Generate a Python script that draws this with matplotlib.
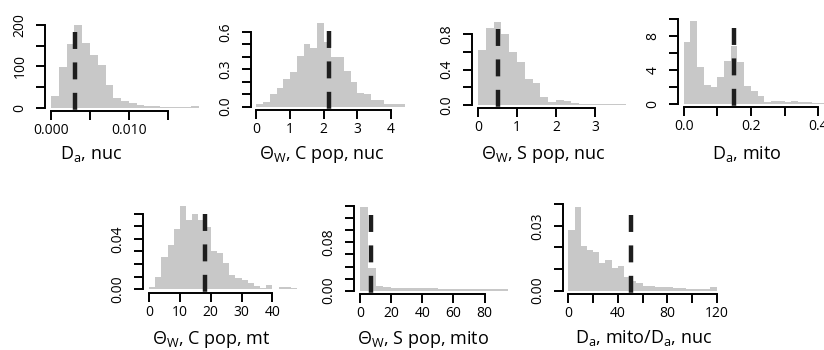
import numpy as np
import matplotlib
matplotlib.use('Agg')
import matplotlib.pyplot as plt

plt.rcParams['font.family'] = ['Open Sans', 'DejaVu Sans']
plt.rcParams['lines.scale_dashes'] = False

# ---------------- data (histogram bin heights) ----------------
# D_a, nuc  (counts), bins of 0.001 from 0
da_nuc_start, da_nuc_step = 0.0, 0.001
da_nuc_vals = [29, 99, 155, 200, 157, 127, 103, 55, 25, 18, 12, 8, 5, 4, 3, 3, 3, 3, 4]
da_nuc_mark = 0.0031

# Theta_W, C pop, nuc (density), bins of 0.2
thc_nuc_start, thc_nuc_step = 0.0, 0.2
thc_nuc_vals = [0.018, 0.04, 0.10, 0.15, 0.22, 0.28, 0.41, 0.50, 0.47, 0.67, 0.52,
                0.40, 0.40, 0.29, 0.20, 0.11, 0.10, 0.05, 0.055, 0.02, 0.02, 0.02]
thc_nuc_mark = 2.16

# Theta_W, S pop, nuc (density), bins of 0.2
ths_nuc_start, ths_nuc_step = 0.0, 0.2
ths_nuc_vals = [0.615, 0.87, 0.94, 0.80, 0.60, 0.49, 0.29, 0.245, 0.094, 0.038, 0.057,
                0.045, 0.02, 0.01, 0.01, 0.01, 0.008, 0.008, 0.008]
ths_nuc_mark = 0.52

# D_a, mito (density), bins of 0.02
da_mito_start, da_mito_step = 0.0, 0.02
da_mito_vals = [7.3, 9.77, 4.37, 2.2, 1.95, 3.2, 5.0, 6.8, 4.9, 2.1, 1.56, 0.94,
                0.27, 0.4, 0.4, 0.27, 0.35, 0.2, 0.2, 0.15, 0.15, 0.1]
da_mito_mark = 0.15

# Theta_W, C pop, mt (density), bins of 2
thc_mt_start, thc_mt_step = 0.0, 2.0
thc_mt_vals = [0.0016, 0.0095, 0.026, 0.035, 0.048, 0.066, 0.055, 0.060, 0.055, 0.049,
               0.030, 0.0285, 0.0205, 0.011, 0.0087, 0.0074, 0.0047, 0.0029, 0.0008,
               0.0034, 0.0003, 0.0016, 0.0016, 0.0008]
thc_mt_mark = 18.0

# Theta_W, S pop, mito (density), bins of 5
ths_mito_start, ths_mito_step = 0.0, 5.0
ths_mito_vals = [0.138, 0.037, 0.0078, 0.0055, 0.004, 0.004, 0.004, 0.005, 0.005, 0.004,
                 0.003, 0.003, 0.003, 0.003, 0.0025, 0.0025, 0.002, 0.002, 0.002]
ths_mito_mark = 7.0

# D_a mito / D_a nuc (density), bins of 5
ratio_start, ratio_step = 0.0, 5.0
ratio_vals = [0.0279, 0.0386, 0.0205, 0.019, 0.0181, 0.0127, 0.0143, 0.0104, 0.0112,
              0.0065, 0.0047, 0.0034, 0.0022, 0.0022, 0.0019, 0.0019, 0.0016, 0.0012,
              0.0012, 0.0010, 0.0010, 0.0010, 0.0010, 0.0019]
ratio_mark = 51.0

# ticks and tick labels
p1_xt = [0, 0.005, 0.010, 0.015]; p1_xl = ['0.000', '', '0.010', '']
p1_yt = [0, 50, 100, 150, 200];   p1_yl = ['0', '', '100', '', '200']
p2_xt = [0, 1, 2, 3, 4];          p2_xl = ['0', '1', '2', '3', '4']
p2_yt = [0, 0.1, 0.2, 0.3, 0.4, 0.5, 0.6]; p2_yl = ['0.0', '', '', '0.3', '', '', '0.6']
p3_xt = [0, 1, 2, 3];             p3_xl = ['0', '1', '2', '3']
p3_yt = [0, 0.2, 0.4, 0.6, 0.8];  p3_yl = ['0.0', '', '0.4', '', '0.8']
p4_xt = [0, 0.1, 0.2, 0.3, 0.4];  p4_xl = ['0.0', '', '0.2', '', '0.4']
p4_yt = [0, 2, 4, 6, 8, 10];      p4_yl = ['0', '', '4', '', '8', '']
p5_xt = [0, 10, 20, 30, 40];      p5_xl = ['0', '10', '20', '30', '40']
p5_yt = [0, 0.01, 0.02, 0.03, 0.04, 0.05, 0.06]; p5_yl = ['0.00', '', '', '', '0.04', '', '']
p6_xt = [0, 20, 40, 60, 80];      p6_xl = ['0', '20', '40', '60', '80']
p6_yt = [0, 0.02, 0.04, 0.06, 0.08, 0.10, 0.12, 0.14]; p6_yl = ['0.00', '', '', '', '0.08', '', '', '']
p7_xt = [0, 20, 40, 60, 80, 100, 120]; p7_xl = ['0', '', '40', '', '80', '', '120']
p7_yt = [0, 0.01, 0.02, 0.03, 0.04]; p7_yl = ['0.00', '', '', '0.03', '']

titles = [r'$\mathregular{D_a}$, nuc',
          r'$\mathregular{Θ_W}$, C pop, nuc',
          r'$\mathregular{Θ_W}$, S pop, nuc',
          r'$\mathregular{D_a}$, mito',
          r'$\mathregular{Θ_W}$, C pop, mt',
          r'$\mathregular{Θ_W}$, S pop, mito',
          r'$\mathregular{D_a}$, mito/$\mathregular{D_a}$, nuc']

series = [
    (da_nuc_start, da_nuc_step, da_nuc_vals, da_nuc_mark, p1_xt, p1_xl, p1_yt, p1_yl),
    (thc_nuc_start, thc_nuc_step, thc_nuc_vals, thc_nuc_mark, p2_xt, p2_xl, p2_yt, p2_yl),
    (ths_nuc_start, ths_nuc_step, ths_nuc_vals, ths_nuc_mark, p3_xt, p3_xl, p3_yt, p3_yl),
    (da_mito_start, da_mito_step, da_mito_vals, da_mito_mark, p4_xt, p4_xl, p4_yt, p4_yl),
    (thc_mt_start, thc_mt_step, thc_mt_vals, thc_mt_mark, p5_xt, p5_xl, p5_yt, p5_yl),
    (ths_mito_start, ths_mito_step, ths_mito_vals, ths_mito_mark, p6_xt, p6_xl, p6_yt, p6_yl),
    (ratio_start, ratio_step, ratio_vals, ratio_mark, p7_xt, p7_xl, p7_yt, p7_yl),
]

# ---------------- layout (pixels) ----------------
W, H = 824, 350
PW, PH = 160, 90
boxes = [(45, 111.5), (250.5, 110), (472, 108.3), (677.7, 107.3),
         (143.1, 292.7), (354, 294), (562.5, 294)]
label_pos = [(91.3, 159.3), (321.7, 159.3), (543, 159.3), (746.7, 159.3),
             (211.7, 343.5), (422.5, 343.5), (643.3, 343.5)]

GREY = '#c8c8c8'
DASH = '#1e1e1e'

fig = plt.figure(figsize=(W / 100, H / 100), dpi=100)

for (start, step, vals, mark, xt, xl, yt, yl), (lx, by), (tx, ty), title in zip(series, boxes, label_pos, titles):
    ax = fig.add_axes([lx / W, 1 - by / H, PW / W, PH / H])
    ax.patch.set_visible(False)
    vals = np.asarray(vals, dtype=float)
    edges = start + step * np.arange(len(vals) + 1)
    ax.bar(edges[:-1], vals, width=step, align='edge', color=GREY, linewidth=0)
    r = edges[-1] - edges[0]
    ax.set_xlim(edges[0] - 0.04 * r, edges[-1] + 0.04 * r)
    ym = vals.max()
    ax.set_ylim(-0.04 * ym, 1.04 * ym)
    ax.plot([mark, mark], [0.91 * ym, -0.04 * ym], color=DASH, lw=3.2,
            dashes=(12.2, 9.7), dash_capstyle='butt', clip_on=False)
    for s in ('top', 'right'):
        ax.spines[s].set_visible(False)
    ax.spines['left'].set_bounds(yt[0], yt[-1])
    ax.spines['bottom'].set_bounds(xt[0], xt[-1])
    for s in ('left', 'bottom'):
        ax.spines[s].set_linewidth(1.4)
    ax.set_xticks(xt)
    ax.set_xticklabels(xl)
    ax.set_yticks(yt)
    ax.set_yticklabels(yl, rotation=90, va='center')
    ax.tick_params(axis='both', direction='out', length=6.5, width=1.4, labelsize=10)
    ax.tick_params(axis='x', pad=2)
    ax.tick_params(axis='y', pad=6)
    fig.text(tx / W, 1 - ty / H, title, ha='center', va='baseline', fontsize=13)

fig.savefig('out.png', dpi=100)
